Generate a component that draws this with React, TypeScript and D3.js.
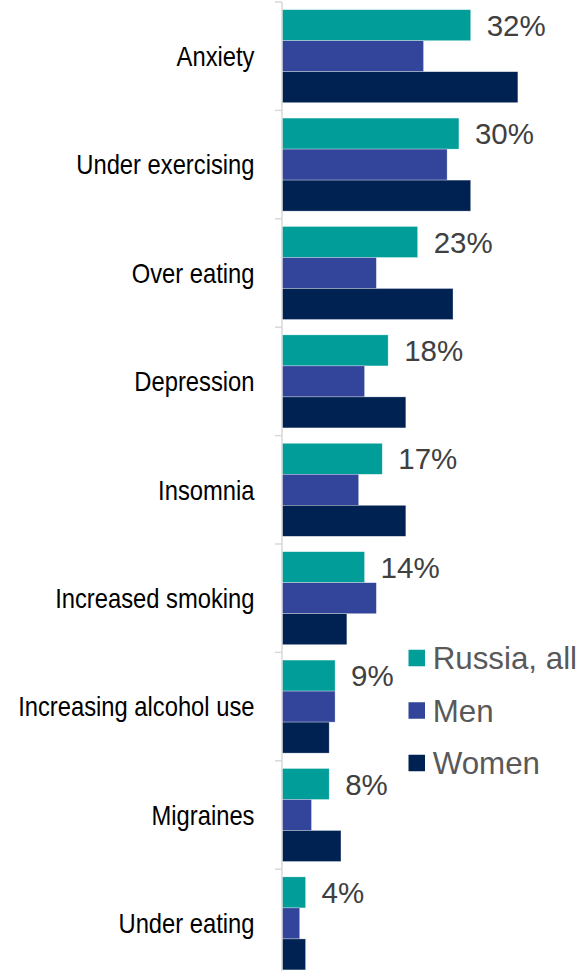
import React from "react";
import * as d3 from "d3";

const categories = [
  "Anxiety",
  "Under exercising",
  "Over eating",
  "Depression",
  "Insomnia",
  "Increased smoking",
  "Increasing alcohol use",
  "Migraines",
  "Under eating",
];
const seriesNames = ["Russia, all", "Men", "Women"];
const russiaAll = [32, 30, 23, 18, 17, 14, 9, 8, 4];
const men = [24, 28, 16, 14, 13, 16, 9, 5, 3];
const women = [40, 32, 29, 21, 21, 11, 8, 10, 4];
const colors = ["#009D99", "#33459A", "#002253"];

const W = 581;
const H = 971;
const AX = 282;

export default function App() {
  const seriesValues = [russiaAll, men, women];
  const y = d3
    .scaleBand<string>()
    .domain(categories)
    .range([2, 2 + 9 * 108.4])
    .paddingInner(0.142)
    .paddingOuter(0.071);
  const step = y.step();
  const yi = d3
    .scaleBand<string>()
    .domain(seriesNames)
    .range([0, y.bandwidth()])
    .padding(0);
  const x = d3.scaleLinear().domain([0, 40]).range([AX, AX + 40 * 5.897]);

  const tickYs = categories.map((c) => (y(c) as number) - (step * 0.142) / 2);
  tickYs.push(tickYs[tickYs.length - 1] + step);

  return (
    <svg
      width={W}
      height={H}
      style={{ position: "absolute", left: 0, top: 0, background: "#fff" }}
      fontFamily="Liberation Sans, Arial, sans-serif"
    >
      {categories.map((c, ci) => (
        <g key={c}>
          {seriesNames.map((s, si) => {
            const v = seriesValues[si][ci];
            return (
              <rect
                key={s}
                x={x(0)}
                y={(y(c) as number) + (yi(s) as number)}
                width={x(v) - x(0)}
                height={yi.bandwidth()}
                fill={colors[si]}
                stroke="#ffffff"
                strokeOpacity={0.5}
                strokeWidth={0.6}
              />
            );
          })}
          <text
            x={x(russiaAll[ci]) + 16}
            y={(y(c) as number) + (yi(seriesNames[0]) as number) + yi.bandwidth() / 2}
            dy="0.36em"
            fontSize={29.5}
            fill="#404040"
          >
            {russiaAll[ci]}%
          </text>
          <text
            transform={`translate(254.5, ${(y(c) as number) + y.bandwidth() / 2}) scale(0.88,1)`}
            dy="0.36em"
            textAnchor="end"
            fontSize={27}
            fill="#000000"
          >
            {c}
          </text>
        </g>
      ))}
      <line x1={AX} x2={AX} y1={tickYs[0]} y2={H} stroke="#d9d9d9" strokeWidth={1.5} />
      {tickYs.map((t, i) => (
        <line key={i} x1={AX - 7} x2={AX} y1={t} y2={t} stroke="#d9d9d9" strokeWidth={1.5} />
      ))}
      {seriesNames.map((s, si) => (
        <g key={s} transform={`translate(408.5, ${658 + si * 52.5})`}>
          <rect x={0} y={-8.25} width={16.5} height={16.5} fill={colors[si]} />
          <text x={24.2} dy="0.36em" fontSize={31.3} fill="#595959">
            {s}
          </text>
        </g>
      ))}
    </svg>
  );
}
